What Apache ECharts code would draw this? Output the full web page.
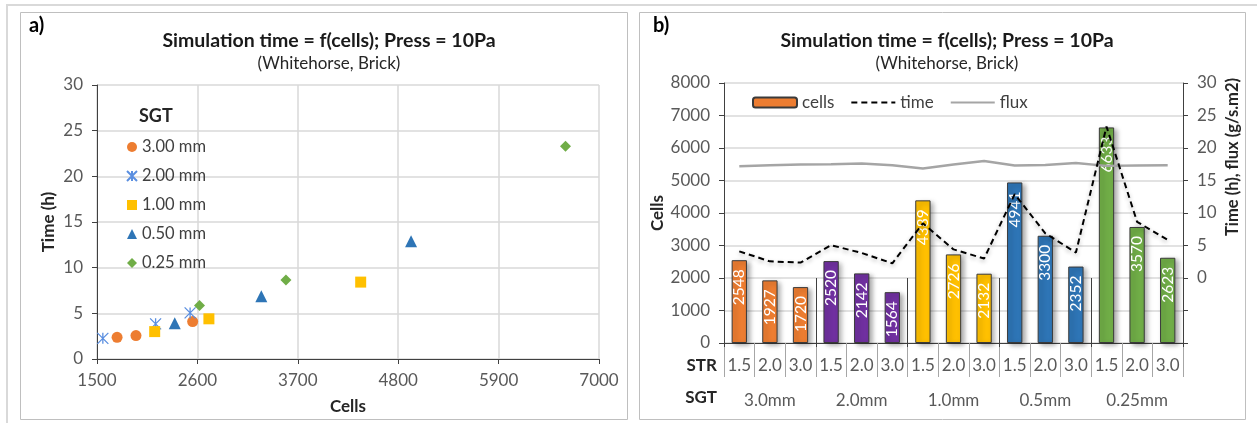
<!DOCTYPE html>
<html>
<head>
<meta charset="utf-8">
<script src="https://cdn.jsdelivr.net/npm/echarts@6/dist/echarts.min.js"></script>
<style>
html, body { margin: 0; padding: 0; background: #fff; }
#chart { width: 1257px; height: 423px; }
</style>
</head>
<body>
<div id="chart"></div>
<script>
// Stretching (STR) values inside each SGT group, one per bar
const strLabels = ['1.5', '2.0', '3.0', '1.5', '2.0', '3.0', '1.5', '2.0', '3.0', '1.5', '2.0', '3.0', '1.5', '2.0', '3.0'];
// SGT groups (three STR cases each)
const sgtGroups = ['3.0mm', '2.0mm', '1.0mm', '0.5mm', '0.25mm'];
const sgtLegend = ['3.00 mm', '2.00 mm', '1.00 mm', '0.50 mm', '0.25 mm'];
// Mesh size per case
const cells = [2548, 1927, 1720, 2520, 2142, 1564, 4389, 2726, 2132, 4941, 3300, 2352, 6633, 3570, 2623];
// Simulation time (h) per case
const timeH = [4.1, 2.56, 2.37, 5.05, 3.85, 2.26, 8.42, 4.4, 3.0, 12.9, 6.88, 3.91, 23.3, 8.64, 5.86];
// Flux (g/s.m2) per case
const flux = [17.2, 17.35, 17.45, 17.5, 17.6, 17.35, 16.85, 17.45, 18.0, 17.3, 17.4, 17.7, 17.25, 17.3, 17.35];
// Axis ticks
const cellsTicksA = [1500, 2600, 3700, 4800, 5900, 7000];

const FONT = 'Lato';
const AXIS_TXT = '#595959';
const GRID_LINE = '#D9D9D9';
const AXIS_LINE = '#404040';

const barColors = ['#ED7D31', '#7030A0', '#FFC000', '#2E75B6', '#70AD47'];
const scatterColors = ['#ED7D31', '#5B8FE0', '#FFC000', '#2E75B6', '#70AD47'];
const scatterSymbols = [
  'circle',
  'path://M5,0 L5,10 M0,0 L10,10 M0,10 L10,0',
  'rect',
  'triangle',
  'diamond'
];
const scatterSizes = [11, 11, 11, 12, 11];

// Scatter series: one per SGT group, points are (cells, time)
const scatterSeries = sgtLegend.map((name, g) => {
  const pts = [];
  for (let k = 0; k < 3; k++) {
    const i = g * 3 + k;
    pts.push([cells[i], timeH[i]]);
  }
  const isStar = g === 1;
  return {
    name: name,
    type: 'scatter',
    xAxisIndex: 0,
    yAxisIndex: 0,
    symbol: scatterSymbols[g],
    symbolSize: scatterSizes[g],
    itemStyle: isStar
      ? { color: 'rgba(0,0,0,0)', borderColor: scatterColors[g], borderWidth: 1.3, opacity: 1 }
      : { color: scatterColors[g], opacity: 1 },
    emphasis: { disabled: true },
    data: pts
  };
});

// Bars coloured by SGT group
const barData = cells.map((v, i) => ({
  value: v,
  itemStyle: { color: barColors[Math.floor(i / 3)] }
}));

const titleStyle = { fontFamily: FONT, fontSize: 19.5, fontWeight: 'bold', color: '#1a1a1a' };
const subStyle = { fontFamily: FONT, fontSize: 17, color: '#262626' };
const axisNameStyle = { fontFamily: FONT, fontSize: 17, fontWeight: 'bold', color: '#262626' };
const tickLabel = { fontFamily: FONT, fontSize: 17, color: AXIS_TXT };

const option = {
  animation: false,
  textStyle: { fontFamily: FONT },
  title: [
    {
      text: 'Simulation time = f(cells); Press = 10Pa',
      subtext: '(Whitehorse, Brick)',
      left: 324, top: 26, textAlign: 'center', itemGap: 4,
      textStyle: titleStyle, subtextStyle: subStyle
    },
    {
      text: 'Simulation time = f(cells); Press = 10Pa',
      subtext: '(Whitehorse, Brick)',
      left: 942, top: 26, textAlign: 'center', itemGap: 4,
      textStyle: titleStyle, subtextStyle: subStyle
    }
  ],
  legend: [
    {
      data: sgtLegend,
      orient: 'vertical',
      left: 126, top: 138, padding: 0,
      itemWidth: 10, itemHeight: 10, itemGap: 11,
      textStyle: { fontFamily: FONT, fontSize: 16.5, color: '#404040', lineHeight: 18 }
    },
    {
      data: [
        { name: 'cells' },
        { name: 'time', itemStyle: { opacity: 0 } },
        { name: 'flux', itemStyle: { opacity: 0 } }
      ],
      left: 752, top: 94, padding: 0,
      itemWidth: 44, itemHeight: 10, itemGap: 16,
      textStyle: { fontFamily: FONT, fontSize: 17, color: '#404040' }
    }
  ],
  grid: [
    { left: 97, right: 658, top: 85, bottom: 64 },
    { left: 724, right: 74, top: 83, bottom: 80 }
  ],
  xAxis: [
    {
      gridIndex: 0, type: 'value', min: 1500, max: 7000, interval: 1100,
      name: 'Cells', nameLocation: 'middle', nameGap: 39,
      nameTextStyle: axisNameStyle,
      axisLine: { show: true, lineStyle: { color: AXIS_LINE, width: 1 } },
      axisTick: { show: true, length: 5, lineStyle: { color: AXIS_LINE } },
      axisLabel: Object.assign({}, tickLabel, { margin: 13,
        formatter: v => (cellsTicksA.indexOf(v) >= 0 ? String(v) : '') }),
      splitLine: { show: true, lineStyle: { color: GRID_LINE, width: 1.5 } }
    },
    {
      gridIndex: 1, type: 'category', data: strLabels,
      axisLine: { show: true, lineStyle: { color: AXIS_LINE, width: 1 } },
      axisTick: { show: true, length: 34, interval: 0, lineStyle: { color: '#A6A6A6' } },
      axisLabel: Object.assign({}, tickLabel, { margin: 14, interval: 0 }),
      splitLine: { show: false }
    },
    {
      gridIndex: 1, type: 'category', data: sgtGroups, position: 'bottom',
      axisLine: { show: false },
      axisTick: { show: true, length: 69, interval: 0, lineStyle: { color: AXIS_LINE } },
      axisLabel: Object.assign({}, tickLabel, { margin: 49, interval: 0 }),
      splitLine: { show: false }
    }
  ],
  yAxis: [
    {
      gridIndex: 0, type: 'value', min: 0, max: 30, interval: 5,
      name: 'Time (h)', nameLocation: 'middle', nameGap: 40, nameRotate: 90,
      nameTextStyle: axisNameStyle,
      axisLine: { show: true, lineStyle: { color: AXIS_LINE, width: 1 } },
      axisTick: { show: true, length: 5, lineStyle: { color: AXIS_LINE } },
      axisLabel: Object.assign({}, tickLabel, { margin: 14 }),
      splitLine: { show: true, lineStyle: { color: GRID_LINE, width: 1.5 } }
    },
    {
      gridIndex: 1, type: 'value', min: 0, max: 8000, interval: 1000,
      name: 'Cells', nameLocation: 'middle', nameGap: 58, nameRotate: 90,
      nameTextStyle: axisNameStyle,
      axisLine: { show: true, lineStyle: { color: AXIS_LINE, width: 1 } },
      axisTick: { show: true, length: 5, lineStyle: { color: AXIS_LINE } },
      axisLabel: Object.assign({}, tickLabel, { margin: 14, formatter: v => String(v) }),
      splitLine: { show: true, lineStyle: { color: GRID_LINE, width: 1.5 } }
    },
    {
      gridIndex: 1, type: 'value', min: -10, max: 30, interval: 5, position: 'right',
      axisLine: { show: true, lineStyle: { color: AXIS_LINE, width: 1 } },
      axisTick: { show: true, length: 5, lineStyle: { color: AXIS_LINE } },
      axisLabel: Object.assign({}, tickLabel, { margin: 14,
        formatter: v => (v < 0 ? '' : String(v)) }),
      splitLine: { show: false }
    }
  ],
  series: scatterSeries.concat([
    {
      name: 'cells', type: 'bar', xAxisIndex: 1, yAxisIndex: 1,
      barWidth: '50%',
      itemStyle: {
        color: barColors[0], borderColor: '#3a3a3a', borderWidth: 1,
        shadowBlur: 5, shadowOffsetX: 3, shadowOffsetY: 2, shadowColor: 'rgba(0,0,0,0.35)'
      },
      label: {
        show: true, position: 'insideTop', rotate: 90, align: 'right', verticalAlign: 'middle',
        distance: 9, color: '#ffffff', fontFamily: FONT, fontSize: 15.5
      },
      emphasis: { disabled: true },
      data: barData,
      z: 2
    },
    {
      name: 'time', type: 'line', xAxisIndex: 1, yAxisIndex: 2,
      symbol: 'none',
      lineStyle: { color: '#000000', width: 2, type: [6, 4],
        shadowBlur: 4, shadowOffsetY: 2, shadowColor: 'rgba(0,0,0,0.3)' },
      itemStyle: { color: '#000000' },
      emphasis: { disabled: true },
      data: timeH,
      z: 4
    },
    {
      name: 'flux', type: 'line', xAxisIndex: 1, yAxisIndex: 2,
      symbol: 'none',
      lineStyle: { color: '#A5A5A5', width: 2.5 },
      itemStyle: { color: '#A5A5A5' },
      emphasis: { disabled: true },
      data: flux,
      z: 3
    }
  ]),
  graphic: [
    // page frame
    { type: 'line', shape: { x1: 6, y1: 5, x2: 1257, y2: 5 }, style: { stroke: '#D9D9D9', lineWidth: 2 }, silent: true },
    { type: 'line', shape: { x1: 7, y1: 4, x2: 7, y2: 423 }, style: { stroke: '#D9D9D9', lineWidth: 2 }, silent: true },
    // panel borders
    { type: 'rect', shape: { x: 20.5, y: 12.5, width: 607, height: 407 }, style: { fill: 'none', stroke: '#BFBFBF', lineWidth: 1 }, silent: true },
    { type: 'rect', shape: { x: 639.5, y: 12.5, width: 606, height: 407 }, style: { fill: 'none', stroke: '#BFBFBF', lineWidth: 1 }, silent: true },
    // panel tags
    { type: 'text', left: 29, top: 16, style: { text: 'a)', font: 'bold 20px Lato', fill: '#000' } },
    { type: 'text', left: 653, top: 16, style: { text: 'b)', font: 'bold 20px Lato', fill: '#000' } },
    // legend heading, left panel
    { type: 'text', left: 139, top: 107, style: { text: 'SGT', font: 'bold 18px Lato', fill: '#262626' } },
    // row headings under the bar chart
    { type: 'text', x: 717, y: 366, style: { text: 'STR', font: 'bold 17px Lato', fill: '#262626', textAlign: 'right', textVerticalAlign: 'middle' } },
    { type: 'text', x: 717, y: 398, style: { text: 'SGT', font: 'bold 17px Lato', fill: '#262626', textAlign: 'right', textVerticalAlign: 'middle' } },
    // right axis title
    { type: 'text', x: 1233, y: 157, rotation: Math.PI / 2,
      style: { text: 'Time (h), flux (g/s.m2)', font: 'bold 16.5px Lato', fill: '#262626', textAlign: 'center', textVerticalAlign: 'middle' } }
  ]
};

const chart = echarts.init(document.getElementById('chart'), null, { renderer: 'canvas' });
chart.setOption(option);
</script>
</body>
</html>
